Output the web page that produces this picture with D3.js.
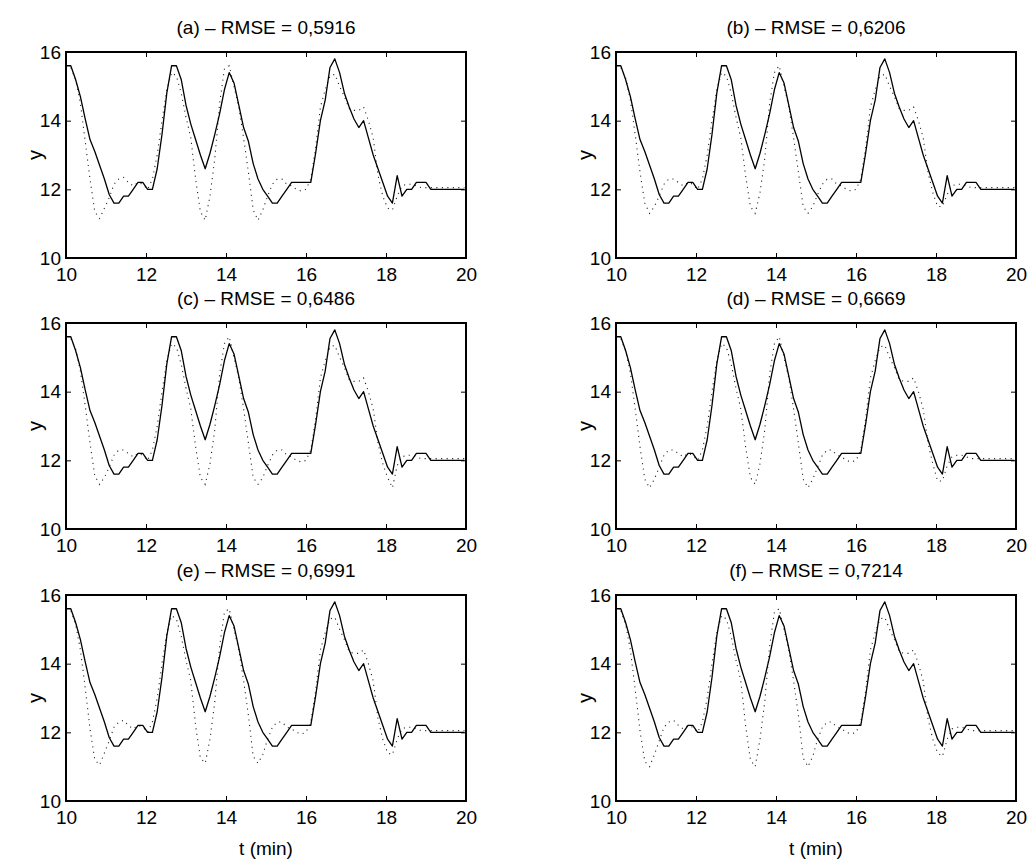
<!DOCTYPE html>
<html>
<head>
<meta charset="utf-8">
<script src="https://cdn.jsdelivr.net/npm/d3@7/dist/d3.min.js"></script>
<style>
  html, body { margin: 0; padding: 0; background: #fff; }
  svg { display: block; }
  text { font-family: "Liberation Sans", Arial, Helvetica, sans-serif; fill: #000; }
</style>
</head>
<body>
<svg id="fig" width="1031" height="862"></svg>
<script>
// Sample instants (min), one every 7.2 s
const sampleTimes = [
  10.00, 10.12, 10.24, 10.36, 10.48, 10.60, 10.72, 10.84, 10.96, 11.08,
  11.20, 11.32, 11.44, 11.56, 11.68, 11.80, 11.92, 12.04, 12.16, 12.28,
  12.40, 12.52, 12.64, 12.76, 12.88, 13.00, 13.12, 13.24, 13.36, 13.48,
  13.60, 13.72, 13.84, 13.96, 14.08, 14.20, 14.32, 14.44, 14.56, 14.68,
  14.80, 14.92, 15.04, 15.16, 15.28, 15.40, 15.52, 15.64, 15.76, 15.88,
  16.00, 16.12, 16.24, 16.36, 16.48, 16.60, 16.72, 16.84, 16.96, 17.08,
  17.20, 17.32, 17.44, 17.56, 17.68, 17.80, 17.92, 18.04, 18.16, 18.28,
  18.40, 18.52, 18.64, 18.76, 18.88, 19.00, 19.12, 19.24, 19.36, 19.48,
  19.60, 19.72, 19.84, 19.96
];

// Measured output (solid line, same in every panel)
const measured = [
  15.6, 15.6, 15.2, 14.7, 14.05, 13.45, 13.1, 12.7, 12.3, 11.85,
  11.6, 11.6, 11.8, 11.8, 12.0, 12.2, 12.2, 12.0, 12.0, 12.6,
  13.6, 14.8, 15.6, 15.6, 15.2, 14.45, 13.9, 13.45, 13.0, 12.6,
  13.05, 13.6, 14.2, 14.9, 15.4, 15.1, 14.45, 13.8, 13.4, 12.75,
  12.3, 12.0, 11.8, 11.6, 11.6, 11.8, 12.0, 12.2, 12.2, 12.2,
  12.2, 12.2, 13.05, 14.0, 14.6, 15.55, 15.8, 15.4, 14.8, 14.4,
  14.05, 13.8, 14.0, 13.5, 13.0, 12.6, 12.2, 11.8, 11.6, 12.4,
  11.8, 12.0, 12.0, 12.2, 12.2, 12.2, 12.0, 12.0, 12.0, 12.0,
  12.0, 12.0, 12.0, 12.0
];

// Model outputs (dotted line), one per panel
const predictedA = [
  15.6, 15.55, 15.2, 14.5, 13.4, 12.3, 11.35, 11.15, 11.45, 11.75,
  12.15, 12.3, 12.35, 12.2, 12.1, 12.2, 12.15, 12.0, 12.3, 13.0,
  14.0, 14.9, 15.4, 15.3, 14.8, 14.1, 13.5, 12.3, 11.35, 11.1,
  11.8, 12.9, 14.5, 15.5, 15.6, 15.0, 14.4, 13.5, 12.5, 11.4,
  11.1, 11.4, 11.8, 12.15, 12.3, 12.3, 12.15, 12.1, 12.0, 11.95,
  12.0, 12.3, 13.2, 14.4, 14.9, 15.3, 15.35, 15.0, 14.7, 14.35,
  14.3, 14.3, 14.4, 14.0, 13.5, 12.4, 11.8, 11.45, 11.4, 11.8,
  12.1, 12.15, 12.15, 12.1, 12.05, 12.05, 12.05, 12.05, 12.05, 12.05,
  12.05, 12.05, 12.05, 12.05
];
const predictedB = [
  15.6, 15.55, 15.25, 14.6, 13.6, 12.5, 11.6, 11.3, 11.5, 11.8,
  12.15, 12.3, 12.3, 12.2, 12.1, 12.2, 12.15, 12.0, 12.3, 13.0,
  14.0, 14.9, 15.4, 15.3, 14.8, 14.1, 13.5, 12.4, 11.5, 11.3,
  11.9, 12.9, 14.5, 15.4, 15.6, 15.0, 14.4, 13.5, 12.5, 11.5,
  11.3, 11.5, 11.85, 12.15, 12.3, 12.3, 12.15, 12.1, 12.0, 11.95,
  12.0, 12.3, 13.2, 14.4, 14.9, 15.3, 15.35, 15.0, 14.7, 14.35,
  14.3, 14.3, 14.4, 14.0, 13.5, 12.5, 11.9, 11.5, 11.5, 11.85,
  12.1, 12.15, 12.15, 12.1, 12.05, 12.05, 12.05, 12.05, 12.05, 12.05,
  12.05, 12.05, 12.05, 12.05
];
const predictedC = [
  15.6, 15.55, 15.25, 14.6, 13.6, 12.5, 11.55, 11.3, 11.5, 11.8,
  12.15, 12.3, 12.3, 12.2, 12.1, 12.2, 12.15, 12.0, 12.3, 13.0,
  14.0, 14.9, 15.4, 15.3, 14.8, 14.1, 13.5, 12.4, 11.5, 11.3,
  11.9, 12.9, 14.5, 15.4, 15.6, 15.0, 14.4, 13.5, 12.5, 11.5,
  11.3, 11.5, 11.85, 12.15, 12.3, 12.3, 12.15, 12.1, 12.0, 11.95,
  12.0, 12.3, 13.2, 14.4, 14.9, 15.3, 15.35, 15.0, 14.7, 14.35,
  14.3, 14.3, 14.4, 14.0, 13.5, 12.5, 11.9, 11.5, 11.2, 11.85,
  12.1, 12.15, 12.15, 12.1, 12.05, 12.05, 12.05, 12.05, 12.05, 12.05,
  12.05, 12.05, 12.05, 12.05
];
const predictedD = [
  15.6, 15.55, 15.2, 14.55, 13.5, 12.4, 11.45, 11.2, 11.45, 11.8,
  12.15, 12.3, 12.3, 12.2, 12.1, 12.2, 12.15, 12.0, 12.3, 13.0,
  14.0, 14.9, 15.4, 15.3, 14.8, 14.1, 13.5, 12.4, 11.5, 11.3,
  11.9, 12.9, 14.5, 15.4, 15.6, 15.0, 14.4, 13.5, 12.5, 11.45,
  11.2, 11.45, 11.8, 12.15, 12.3, 12.3, 12.15, 12.1, 12.0, 11.95,
  12.0, 12.3, 13.2, 14.4, 14.9, 15.3, 15.35, 15.0, 14.7, 14.35,
  14.3, 14.3, 14.4, 14.0, 13.5, 12.5, 11.9, 11.4, 11.4, 11.85,
  12.1, 12.15, 12.15, 12.1, 12.05, 12.05, 12.05, 12.05, 12.05, 12.05,
  12.05, 12.05, 12.05, 12.05
];
const predictedE = [
  15.6, 15.55, 15.15, 14.4, 13.3, 12.1, 11.2, 11.05, 11.4, 11.75,
  12.15, 12.3, 12.35, 12.2, 12.1, 12.2, 12.15, 12.0, 12.3, 13.0,
  14.0, 14.9, 15.4, 15.3, 14.8, 14.1, 13.5, 12.2, 11.25, 11.1,
  11.8, 12.9, 14.5, 15.5, 15.6, 15.0, 14.4, 13.5, 12.5, 11.3,
  11.1, 11.35, 11.8, 12.15, 12.3, 12.3, 12.15, 12.1, 12.0, 11.95,
  12.0, 12.3, 13.2, 14.4, 14.9, 15.3, 15.35, 15.0, 14.7, 14.35,
  14.3, 14.3, 14.4, 14.0, 13.5, 12.4, 11.8, 11.4, 11.35, 11.8,
  12.1, 12.15, 12.15, 12.1, 12.05, 12.05, 12.05, 12.05, 12.05, 12.05,
  12.05, 12.05, 12.05, 12.05
];
const predictedF = [
  15.6, 15.55, 15.15, 14.4, 13.25, 12.05, 11.15, 11.0, 11.35, 11.75,
  12.15, 12.3, 12.35, 12.2, 12.1, 12.2, 12.15, 12.0, 12.3, 13.0,
  14.0, 14.9, 15.4, 15.3, 14.8, 14.1, 13.5, 12.2, 11.2, 11.0,
  11.8, 12.9, 14.5, 15.5, 15.6, 15.0, 14.4, 13.5, 12.5, 11.25,
  11.0, 11.3, 11.8, 12.15, 12.3, 12.3, 12.15, 12.1, 12.0, 11.95,
  12.0, 12.3, 13.2, 14.4, 14.9, 15.3, 15.35, 15.0, 14.7, 14.35,
  14.3, 14.3, 14.4, 14.0, 13.5, 12.4, 11.8, 11.4, 11.3, 11.8,
  12.1, 12.15, 12.15, 12.1, 12.05, 12.05, 12.05, 12.05, 12.05, 12.05,
  12.05, 12.05, 12.05, 12.05
];

const panelTitles = [
  "(a) \u2013 RMSE = 0,5916", "(b) \u2013 RMSE = 0,6206",
  "(c) \u2013 RMSE = 0,6486", "(d) \u2013 RMSE = 0,6669",
  "(e) \u2013 RMSE = 0,6991", "(f) \u2013 RMSE = 0,7214"
];
const predictedSeries = [predictedA, predictedB, predictedC, predictedD, predictedE, predictedF];
const xTicks = [10, 12, 14, 16, 18, 20];
const yTicks = [10, 12, 14, 16];
const xDomain = [10, 20];
const yDomain = [10, 16];
const yLabel = "y";
const xLabel = "t (min)";

// Layout of the 3 x 2 grid of axes
const colLeft = [66, 616];
const colWidth = 400;
const rowTop = [52, 323, 595];
const rowHeight = 206;
const tickLen = 5;
const fontSize = "19px";

const svg = d3.select("#fig");

panelTitles.forEach((title, i) => {
  const col = i % 2, row = Math.floor(i / 2);
  const x0 = colLeft[col], y0 = rowTop[row];
  const w = colWidth, h = rowHeight;

  const x = d3.scaleLinear().domain(xDomain).range([0, w]);
  const y = d3.scaleLinear().domain(yDomain).range([h, 0]);

  const g = svg.append("g").attr("transform", `translate(${x0},${y0})`);

  g.append("defs").append("clipPath").attr("id", "clip" + i)
    .append("rect").attr("x", 0).attr("y", 0).attr("width", w).attr("height", h);

  const rows = sampleTimes.map((t, k) => ({ t, meas: measured[k], pred: predictedSeries[i][k] }));

  const plot = g.append("g").attr("clip-path", `url(#clip${i})`);

  // model output, dotted
  plot.append("path")
    .datum(rows)
    .attr("fill", "none")
    .attr("stroke", "#222")
    .attr("stroke-width", 1.1)
    .attr("stroke-dasharray", "1.1,4.4")
    .attr("d", d3.line().x(d => x(d.t)).y(d => y(d.pred)));

  // measured output, solid
  plot.append("path")
    .datum(rows)
    .attr("fill", "none")
    .attr("stroke", "#000")
    .attr("stroke-width", 1.3)
    .attr("stroke-linejoin", "round")
    .attr("d", d3.line().x(d => x(d.t)).y(d => y(d.meas)));

  // axes: labelled bottom/left, mirrored inward ticks top/right
  const axisStyle = sel => {
    sel.select(".domain").remove();
    sel.selectAll(".tick line").attr("stroke", "#000").attr("stroke-width", 1);
    sel.selectAll("text").style("font-size", fontSize)
      .style("font-family", "'Liberation Sans', Arial, sans-serif");
  };

  g.append("g").attr("transform", `translate(0,${h})`)
    .call(d3.axisBottom(x).tickValues(xTicks).tickSizeInner(-tickLen).tickSizeOuter(0).tickPadding(10).tickFormat(d3.format("d")))
    .call(axisStyle);
  g.append("g")
    .call(d3.axisTop(x).tickValues(xTicks).tickSizeInner(-tickLen).tickSizeOuter(0).tickFormat(""))
    .call(axisStyle);
  g.append("g")
    .call(d3.axisLeft(y).tickValues(yTicks).tickSizeInner(-tickLen).tickSizeOuter(0).tickPadding(5).tickFormat(d3.format("d")))
    .call(axisStyle);
  g.append("g").attr("transform", `translate(${w},0)`)
    .call(d3.axisRight(y).tickValues(yTicks).tickSizeInner(-tickLen).tickSizeOuter(0).tickFormat(""))
    .call(axisStyle);

  // box
  g.append("rect")
    .attr("x", 0).attr("y", 0).attr("width", w).attr("height", h)
    .attr("fill", "none").attr("stroke", "#000").attr("stroke-width", 2);

  // title
  g.append("text")
    .attr("x", w / 2).attr("y", -18)
    .attr("text-anchor", "middle")
    .style("font-size", fontSize)
    .text(title);

  // y label
  g.append("text")
    .attr("transform", `translate(-24,${h / 2}) rotate(-90)`)
    .attr("text-anchor", "middle")
    .style("font-size", "20px")
    .text(yLabel);

  // x label under the bottom row
  if (row === 2) {
    g.append("text")
      .attr("x", w / 2).attr("y", h + 54)
      .attr("text-anchor", "middle")
      .style("font-size", fontSize)
      .text(xLabel);
  }
});
</script>
</body>
</html>
